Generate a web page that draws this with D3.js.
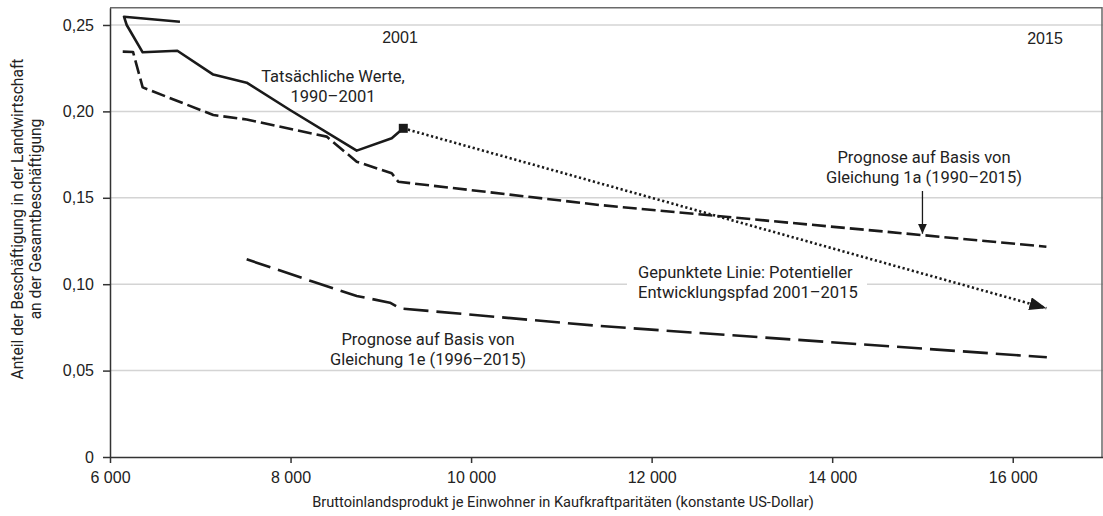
<!DOCTYPE html>
<html>
<head>
<meta charset="utf-8">
<script src="https://cdn.jsdelivr.net/npm/d3@7"></script>
<style>
  body { margin: 0; background: #fff; }
  text { fill: #222; }
  .narrow { font-family: Roboto, "Liberation Sans", sans-serif; }
  .num { font-family: "Liberation Sans", Roboto, sans-serif; }
</style>
</head>
<body>
<div id="chart"></div>
<script>
// Tatsaechliche Werte 1990-2001 (BIP je Einwohner, Anteil Landwirtschaft)
let actualX = [6775, 6155, 6185, 6362, 6746, 7144, 7514, 7994, 8733, 9121, 9249]
let actualY = [0.2519, 0.2548, 0.2500, 0.2342, 0.2351, 0.2213, 0.2166, 0.2008, 0.1773, 0.1844, 0.1902]

// Prognose Gleichung 1a (1990-2015)
let eq1aX = [6141, 6255, 6362, 7144, 7514, 8400, 8733, 9121, 9193, 11427, 16373]
let eq1aY = [0.2346, 0.2344, 0.2139, 0.1979, 0.1953, 0.1854, 0.1709, 0.1642, 0.1593, 0.1458, 0.1217]

// Prognose Gleichung 1e (1996-2015)
let eq1eX = [7514, 8252, 8733, 9101, 9212, 11427, 16378]
let eq1eY = [0.1144, 0.1014, 0.0932, 0.0893, 0.0860, 0.0758, 0.0577]

// Potentieller Entwicklungspfad 2001-2015
let pathX = [9249, 16373]
let pathY = [0.1902, 0.0861]

let xTicks = [6000, 8000, 10000, 12000, 14000, 16000]
let yTicks = [0, 0.05, 0.10, 0.15, 0.20, 0.25]

let w = 1103
let h = 516
let svg = d3.select('#chart').append('svg').attr('width', w).attr('height', h)

let x = d3.scaleLinear().domain([6000, 17000]).range([110, 1103])
let y = d3.scaleLinear().domain([0, 0.26]).range([457, 7.7])

let de = d3.formatLocale({decimal: ',', thousands: ' ', grouping: [3], currency: ['', '']})

// grid
svg.append('g').selectAll('line').data(yTicks.filter(d => d > 0)).enter().append('line')
    .attr('x1', x(6000)).attr('x2', x(17000))
    .attr('y1', d => y(d)).attr('y2', d => y(d))
    .attr('stroke', '#d4d4d4').attr('stroke-width', 1.5)

// frame top + right
svg.append('path')
    .attr('d', 'M' + x(6000) + ',' + y(0.26) + 'H' + (x(17000) - 1) + 'V' + y(0))
    .attr('fill', 'none').attr('stroke', '#6a6a6a').attr('stroke-width', 1.5)

// axes
let yAxis = svg.append('g').attr('class', 'num').attr('transform', 'translate(' + x(6000) + ',0)')
    .call(d3.axisLeft(y).tickValues(yTicks).tickSize(7).tickSizeOuter(0).tickPadding(9)
        .tickFormat(d => d === 0 ? '0' : de.format('.2f')(d)))
let xAxis = svg.append('g').attr('class', 'num').attr('transform', 'translate(0,' + y(0) + ')')
    .call(d3.axisBottom(x).tickValues(xTicks).tickSize(6).tickSizeOuter(0).tickPadding(9)
        .tickFormat(de.format(',')))

;[xAxis, yAxis].forEach(a => {
    a.selectAll('path, line').attr('stroke', '#333').attr('stroke-width', 1.5)
    a.selectAll('text').attr('font-size', 16).attr('fill', '#222')
        .attr('font-family', '"Liberation Sans", Roboto, sans-serif')
})

// axis titles
svg.append('text').attr('class', 'narrow').attr('x', 563).attr('y', 507)
    .attr('text-anchor', 'middle').attr('font-size', 14.6)
    .text('Bruttoinlandsprodukt je Einwohner in Kaufkraftparitäten (konstante US-Dollar)')

let yTitle = svg.append('text').attr('class', 'narrow').attr('font-size', 15.6)
    .attr('text-anchor', 'middle').attr('transform', 'translate(23,219) rotate(-90)')
yTitle.append('tspan').attr('x', 0).attr('y', 0).text('Anteil der Beschäftigung in der Landwirtschaft')
yTitle.append('tspan').attr('x', 0).attr('y', 17.5).text('an der Gesamtbeschäftigung')

// white box behind dotted-line label
svg.append('rect').attr('x', 627).attr('y', 264).attr('width', 240).attr('height', 38).attr('fill', '#fff')

// markers
let defs = svg.append('defs')
defs.append('marker').attr('id', 'bigArrow')
    .attr('viewBox', '0 0 17 13').attr('refX', 17).attr('refY', 6.5)
    .attr('markerUnits', 'userSpaceOnUse').attr('markerWidth', 17).attr('markerHeight', 13)
    .attr('orient', 'auto')
    .append('path').attr('d', 'M0,0L17,6.5L0,13z').attr('fill', '#1a1a1a')
defs.append('marker').attr('id', 'smallArrow')
    .attr('viewBox', '0 0 10 9').attr('refX', 10).attr('refY', 4.5)
    .attr('markerUnits', 'userSpaceOnUse').attr('markerWidth', 10).attr('markerHeight', 9)
    .attr('orient', 'auto')
    .append('path').attr('d', 'M0,0L10,4.5L0,9z').attr('fill', '#1a1a1a')

let line = d3.line().x(d => x(d[0])).y(d => y(d[1]))

let series = [
    {xs: eq1aX, ys: eq1aY, dash: '14,5'},
    {xs: eq1eX, ys: eq1eY, dash: '25,8'},
    {xs: actualX, ys: actualY, dash: null},
    {xs: pathX, ys: pathY, dash: '2.2,2.6', arrow: true},
]

series.forEach(s => {
    svg.append('path')
        .attr('d', line(d3.zip(s.xs, s.ys)))
        .attr('fill', 'none').attr('stroke', '#1a1a1a').attr('stroke-width', 2.6)
        .attr('stroke-linejoin', 'round')
        .attr('stroke-dasharray', s.dash)
        .attr('marker-end', s.arrow ? 'url(#bigArrow)' : null)
})

// 2001 endpoint square
let last = actualX.length - 1
svg.append('rect')
    .attr('x', x(actualX[last]) - 4.5).attr('y', y(actualY[last]) - 4.5)
    .attr('width', 9).attr('height', 9).attr('fill', '#1a1a1a')

// annotation arrow to Gleichung 1a
svg.append('line')
    .attr('x1', x(15000)).attr('x2', x(15000))
    .attr('y1', 191).attr('y2', y(0.1292))
    .attr('stroke', '#1a1a1a').attr('stroke-width', 1.3)
    .attr('marker-end', 'url(#smallArrow)')

// labels
let labels = [
    {x: 400, y: 43, anchor: 'middle', size: 16, cls: 'num', lines: ['2001']},
    {x: 1045, y: 44, anchor: 'middle', size: 16, cls: 'num', lines: ['2015']},
    {x: 333, y: 82, anchor: 'middle', size: 16.5, cls: 'narrow', gap: 20, lines: ['Tatsächliche Werte,', '1990–2001']},
    {x: 924, y: 163, anchor: 'middle', size: 16.5, cls: 'narrow', gap: 20, lines: ['Prognose auf Basis von', 'Gleichung 1a (1990–2015)']},
    {x: 638, y: 278, anchor: 'start', size: 16.5, cls: 'narrow', gap: 20, lines: ['Gepunktete Linie: Potentieller', 'Entwicklungspfad 2001–2015']},
    {x: 428, y: 345, anchor: 'middle', size: 16.5, cls: 'narrow', gap: 20, lines: ['Prognose auf Basis von', 'Gleichung 1e (1996–2015)']},
]

labels.forEach(l => {
    let t = svg.append('text').attr('class', l.cls).attr('font-size', l.size)
        .attr('text-anchor', l.anchor)
    l.lines.forEach((s, i) => {
        t.append('tspan').attr('x', l.x).attr('y', l.y + i * (l.gap || 0)).text(s)
    })
})
</script>
</body>
</html>
